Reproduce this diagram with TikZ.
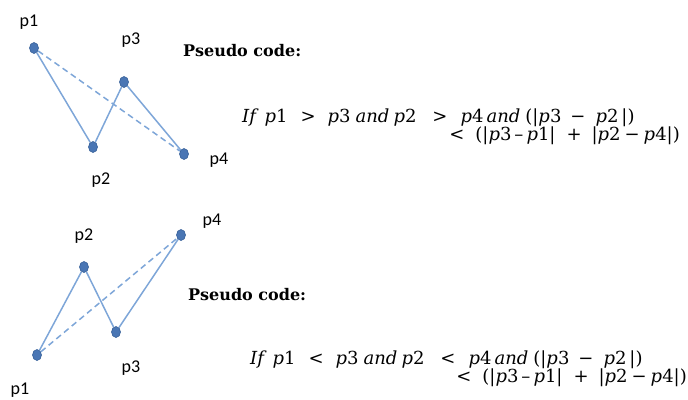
\documentclass[tikz,border=0pt]{standalone}
\usetikzlibrary{shapes.geometric}
\usepackage{fontspec}
\setmainfont{DejaVu Serif}
\newfontfamily\lblfont{Carlito}
\newfontfamily\hdfont{DejaVu Serif}
\newcommand{\mvar}[1]{\textit{#1}}
\newcommand{\hs}[1]{\hspace{#1pt}}
\begin{document}
\begin{tikzpicture}[x=1pt,y=-1pt,
  dot/.style={ellipse,draw=dotedge,fill=dotfill,line width=0.6pt,minimum width=9pt,minimum height=11pt,inner sep=0pt},
  lbl/.style={font=\lblfont\fontsize{18}{18}\selectfont,inner sep=0pt},
  seg/.style={draw=linec,line width=1.5pt},
  dseg/.style={draw=linec,line width=1.5pt,dash pattern=on 6pt off 4pt},
  hd/.style={font=\hdfont\bfseries\fontsize{16}{16}\selectfont,inner sep=0pt,anchor=base west},
  eq/.style={font=\fontsize{18}{18}\selectfont,inner sep=0pt}]
\definecolor{linec}{HTML}{7EA6D8}
\definecolor{dotfill}{HTML}{4A76B4}
\definecolor{dotedge}{HTML}{2F5A94}
\useasboundingbox (0,0) rectangle (688,399);
% top diagram
\node[dot] (a1) at (34,48) {};
\node[dot] (a2) at (93,147) {};
\node[dot] (a3) at (124,82) {};
\node[dot] (a4) at (184,154) {};
\draw[seg] (a1) -- (a2) -- (a3) -- (a4);
\draw[dseg] (a1) -- (a4);
\node[lbl] (la1) at (29,22) {p1};
\node[lbl] (la2) at (101,180) {p2};
\node[lbl] (la3) at (131,40) {p3};
\node[lbl] (la4) at (219,160) {p4};
\node[hd] (h1) at (183,56) {Pseudo code:};
\node[eq,anchor=base west] (e1) at (242,122) {\mvar{If}\hs{6}\mvar{p}1\hs{13}>\hs{12}\mvar{p}3\hs{5}\mvar{and}\hs{4}\mvar{p}2\hs{16}>\hs{13}\mvar{p}4\hs{3}\mvar{and}\hs{5}(|\mvar{p}3\hs{9}−\hs{10}\mvar{p}2\hs{3}|)};
\node[eq,anchor=base east] (e2) at (680,140) {<\hs{11}(|\mvar{p}3\hs{3}–\hs{3}\mvar{p}1|\hs{11}+\hs{10}|\mvar{p}2\hs{4}−\hs{4}\mvar{p}4|)};
% bottom diagram
\node[dot] (b1) at (37,355) {};
\node[dot] (b2) at (84,267) {};
\node[dot] (b3) at (116,332) {};
\node[dot] (b4) at (181,235) {};
\draw[seg] (b1) -- (b2) -- (b3) -- (b4);
\draw[dseg] (b1) -- (b4);
\node[lbl] (lb1) at (20,390) {p1};
\node[lbl] (lb2) at (84,236) {p2};
\node[lbl] (lb3) at (131,368) {p3};
\node[lbl] (lb4) at (212,221) {p4};
\node[hd] (h2) at (188,300) {Pseudo code:};
\node[eq,anchor=base west] (e3) at (250,364) {\mvar{If}\hs{6}\mvar{p}1\hs{13}<\hs{12}\mvar{p}3\hs{5}\mvar{and}\hs{4}\mvar{p}2\hs{16}<\hs{13}\mvar{p}4\hs{3}\mvar{and}\hs{5}(|\mvar{p}3\hs{9}−\hs{10}\mvar{p}2\hs{3}|)};
\node[eq,anchor=base east] (e4) at (687,382) {<\hs{11}(|\mvar{p}3\hs{3}–\hs{3}\mvar{p}1|\hs{11}+\hs{10}|\mvar{p}2\hs{4}−\hs{4}\mvar{p}4|)};
\end{tikzpicture}
\end{document}
